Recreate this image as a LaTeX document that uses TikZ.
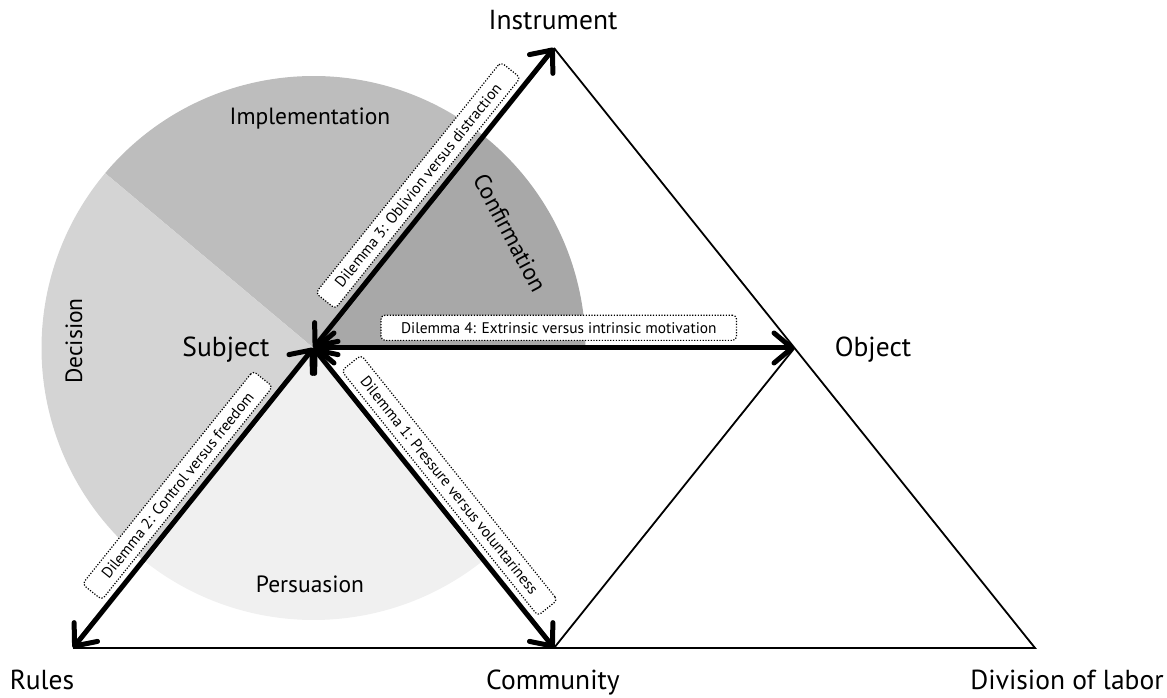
\documentclass[tikz,border=0pt]{standalone}
\usepackage{fontspec}
\setmainfont{PT Sans}
\usetikzlibrary{arrows.meta}

\begin{document}
\begin{tikzpicture}[x=1pt,y=1pt,
	vertex_label/.style={font=\fontsize{27.5}{32}\selectfont,inner sep=0pt,anchor=base},
	phase_label/.style={font=\fontsize{23.5}{28}\selectfont,inner sep=0pt},
	dilemma_box/.style={draw,line width=1.2pt,dash pattern=on 1.2pt off 1.6pt,rounded corners=4pt,fill=white,
		font=\fontsize{15.4}{18}\selectfont,inner xsep=20pt,inner ysep=7pt,sloped,above=7pt},
	dilemma_arrow/.style={line width=5pt,{Straight Barb[length=18pt,width=30pt,round]}-{Straight Barb[length=18pt,width=30pt,round]}},
	thin_line/.style={line width=1.8pt}]

		\useasboundingbox (0,0) rectangle (1167,697);

		% corners of the triangle
		\coordinate (rules) at (73,49);
		\coordinate (instrument) at (554,649);
		\coordinate (division) at (1035,49);
		\coordinate (subject) at (313.5,349);
		\coordinate (object) at (794.5,349);
		\coordinate (community) at (554,49);

		% phases round the subject
		\fill[black!34] (subject) -- ++(0:272) arc[start angle=0,end angle=51.3,radius=272] -- cycle;
		\fill[black!26] (subject) -- ++(51.3:272) arc[start angle=51.3,end angle=140,radius=272] -- cycle;
		\fill[black!17] (subject) -- ++(140:272) arc[start angle=140,end angle=231.3,radius=272] -- cycle;
		\fill[black!6] (subject) -- ++(231.3:272) arc[start angle=231.3,end angle=308.7,radius=272] -- cycle;

		\node[phase_label,anchor=base] (implementation) at (310,572) {Implementation};
		\node[phase_label,rotate=-62] (confirmation) at (510,464) {Confirmation};
		\node[phase_label,anchor=base,rotate=90] (decision) at (82,356) {Decision};
		\node[phase_label,anchor=base] (persuasion) at (310,105) {Persuasion};

		\draw[thin_line] (instrument) -- (division) -- (rules);
		\draw[thin_line] (community) -- (object);

		\draw (subject) edge[dilemma_arrow] node[dilemma_box] {Dilemma 1: Pressure versus voluntariness} (community);
		\draw (rules) edge[dilemma_arrow] node[dilemma_box] {Dilemma 2: Control versus freedom} (subject);
		\draw (subject) edge[dilemma_arrow] node[dilemma_box] {Dilemma 3: Oblivion versus distraction} (instrument);
		\draw (subject) edge[dilemma_arrow] node[dilemma_box,pos=0.51] {Dilemma 4: Extrinsic versus intrinsic motivation} (object);

		\node[vertex_label] (instrument_label) at (553,667) {Instrument};
		\node[vertex_label] (subject_label) at (226,340) {Subject};
		\node[vertex_label] (object_label) at (873,340) {Object};
		\node[vertex_label] (rules_label) at (42,8) {Rules};
		\node[vertex_label] (community_label) at (553,8) {Community};
		\node[vertex_label] (division_label) at (1067,8) {Division of labor};
		\end{tikzpicture}
\end{document}
